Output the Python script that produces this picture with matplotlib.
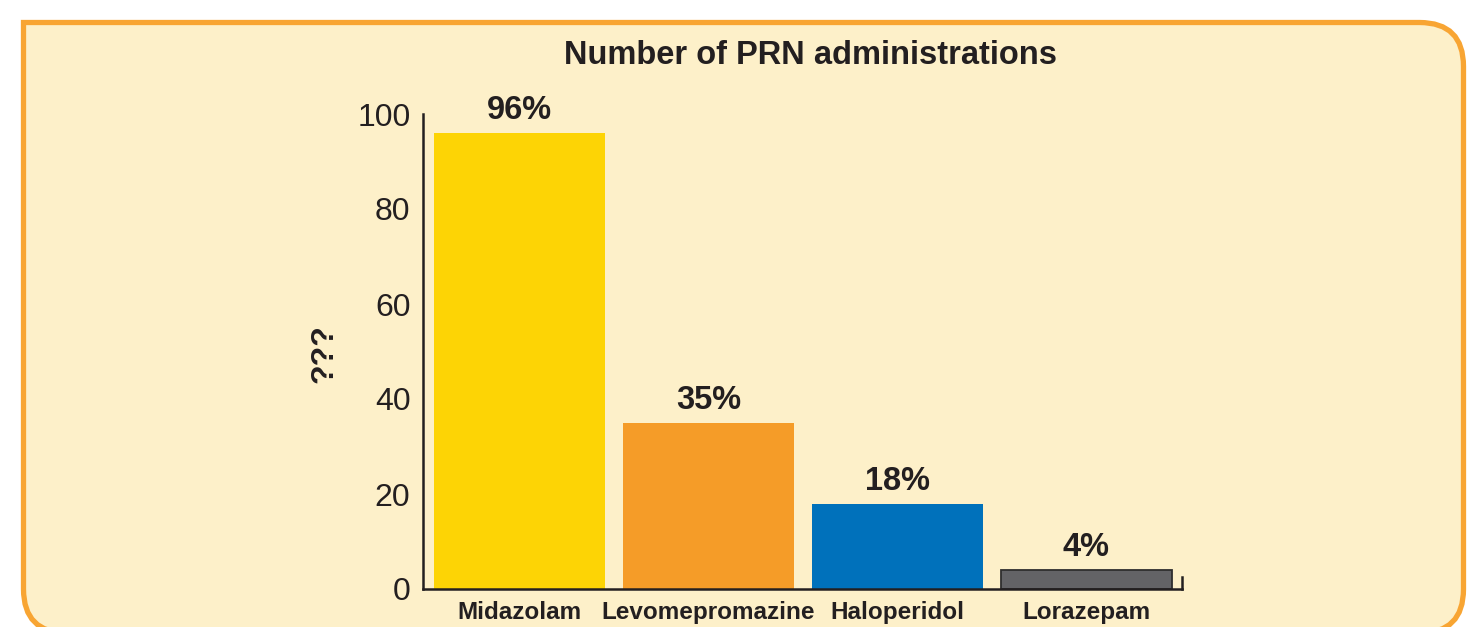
import matplotlib
matplotlib.use("Agg")
import matplotlib.pyplot as plt
from matplotlib.path import Path
from matplotlib.patches import PathPatch
from matplotlib.transforms import Affine2D

categories = ["Midazolam", "Levomepromazine", "Haloperidol", "Lorazepam"]
values = [96, 35, 18, 4]
value_labels = ["96%", "35%", "18%", "4%"]
bar_colors = ["#fdd405", "#f59c28", "#0071bb", "#636366"]
yticks = [0, 20, 40, 60, 80, 100]
title = "Number of PRN administrations"
ylabel = "???"

W, H = 1481, 627
fig = plt.figure(figsize=(W / 100, H / 100), dpi=100)
fig.patch.set_facecolor("white")

# rounded panel (pixel coords, y downward from top)
L, T, R, B, r = 23.5, 22.5, 1463.5, 633.0, 44.0
def p(x, y):
    return (x, H - y)
verts = [p(L, T), p(R - r, T), p(R, T), p(R, T + r), p(R, B - r), p(R, B), p(R - r, B),
         p(L + r, B), p(L, B), p(L, B - r), p(L, T), p(L, T)]
codes = [Path.MOVETO, Path.LINETO, Path.CURVE3, Path.CURVE3, Path.LINETO, Path.CURVE3, Path.CURVE3,
         Path.LINETO, Path.CURVE3, Path.CURVE3, Path.LINETO, Path.CLOSEPOLY]
tr = Affine2D().scale(1 / W, 1 / H) + fig.transFigure
panel = PathPatch(Path(verts, codes), facecolor="#fdf0c9", edgecolor="#f8a533",
                  linewidth=3.8, transform=tr, zorder=-5, joinstyle="miter")
fig.patches.append(panel)

dark = "#231f20"
ax = fig.add_axes([423 / W, 38 / H, (1182 - 423) / W, (589 - 114) / H])
ax.set_facecolor("none")
ax.set_zorder(1)

x = list(range(len(categories)))
bars = ax.bar(x, values, width=0.905, color=bar_colors, zorder=2)
bars[3].set_edgecolor("#2e2e2e")
bars[3].set_linewidth(1.3)

ax.set_xlim(-0.511, 3.508)
ax.set_ylim(0, 100)
ax.set_yticks(yticks)
ax.set_yticklabels([str(t) for t in yticks], fontsize=23, color=dark,
                   fontfamily=["Liberation Sans", "DejaVu Sans"])
ax.set_xticks(x)
ax.set_xticklabels(categories, fontsize=17.5, fontweight="bold", color=dark,
                   fontfamily=["Liberation Sans Narrow", "Liberation Sans", "DejaVu Sans"])
ax.tick_params(axis="y", length=0, pad=9)
ax.tick_params(axis="x", length=0, pad=8.5)

ax.spines["top"].set_visible(False)
for s in ["left", "bottom", "right"]:
    ax.spines[s].set_color(dark)
    ax.spines[s].set_linewidth(1.8)
ax.spines["right"].set_bounds(0, 2.5)

for xi, v, lab in zip(x, values, value_labels):
    ax.annotate(lab, (xi, v), xytext=(0, 5), textcoords="offset points",
                ha="center", va="bottom", fontsize=23.5, fontweight="bold", color=dark,
                fontfamily=["Liberation Sans", "DejaVu Sans"])

fig.text(810 / W, 1 - 55 / H, title, ha="center", va="center", fontsize=23.5,
         fontweight="bold", color=dark, fontfamily=["Liberation Sans", "DejaVu Sans"])
fig.text(324 / W, 1 - 354 / H, ylabel, ha="center", va="center", rotation=90,
         fontsize=23, fontweight="bold", color=dark, fontfamily=["Liberation Sans", "DejaVu Sans"])

fig.savefig("out.png", dpi=100)
